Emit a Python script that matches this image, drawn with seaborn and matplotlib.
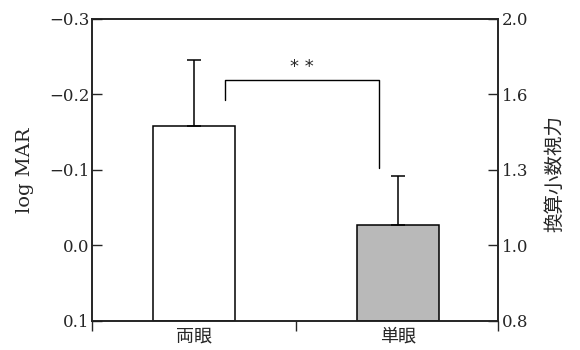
import matplotlib
matplotlib.use("Agg")
import matplotlib.pyplot as plt
import seaborn as sns

# Mean logMAR visual acuity, binocular vs monocular, with upper error bars
categories = ["両眼", "単眼"]
logmar = [-0.158, -0.027]
err = [0.088, 0.065]
bar_colors = ["#ffffff", "#b9b9b9"]

left_ticks = [-0.3, -0.2, -0.1, 0.0, 0.1]
left_labels = ["\u22120.3", "\u22120.2", "\u22120.1", "0.0", "0.1"]
right_labels = ["2.0", "1.6", "1.3", "1.0", "0.8"]
baseline = 0.1

sns.set_style("ticks")
plt.rcParams["font.family"] = ["DejaVu Serif", "Noto Sans CJK JP"]
plt.rcParams["axes.linewidth"] = 1.1

fig = plt.figure(figsize=(5.8, 3.5), dpi=100)
ax = fig.add_axes([0.1586, 0.0829, 0.700, 0.8629])

sns.barplot(x=categories, y=logmar, hue=categories, palette=bar_colors,
            legend=False, width=0.4, edgecolor="black", linewidth=1.1,
            errorbar=None, ax=ax)

# bars rise from the bottom of the inverted logMAR scale
for patch, v in zip(ax.patches, logmar):
    patch.set_y(baseline)
    patch.set_height(v - baseline)

ax.errorbar([0, 1], logmar, yerr=[err, [0, 0]], fmt="none", ecolor="black",
            elinewidth=1.1, capsize=5, capthick=1.1, zorder=3)

# significance bracket
bx = [0.152, 0.152, 0.905, 0.905]
by = [-0.193, -0.219, -0.219, -0.103]
ax.plot(bx, by, color="black", lw=1.0)
ax.text(0.528, -0.237, "* *", ha="center", va="center", fontsize=13,
        family="DejaVu Sans")

ax.set_xlim(-0.5, 1.49)
ax.set_ylim(0.1, -0.3)
ax.set_yticks(left_ticks)
ax.set_yticklabels(left_labels, fontsize=12)
ax.tick_params(axis="y", direction="in", length=7, width=1.0, pad=2)

ax.set_xticks([0, 1])
ax.set_xticklabels(categories, fontsize=13, family="Noto Sans CJK JP")
ax.tick_params(axis="x", which="major", length=0, pad=5)
ax.set_xticks([-0.5, 0.5, 1.49], minor=True)
ax.tick_params(axis="x", which="minor", direction="out", length=7.5, width=1.0)
ax.set_xlabel("")
ax.set_ylabel("log MAR", fontsize=14, labelpad=11)

for side in ["top", "right", "left", "bottom"]:
    ax.spines[side].set_visible(True)
    ax.spines[side].set_color("black")

ax2 = ax.twinx()
ax2.set_ylim(ax.get_ylim())
ax2.set_yticks(left_ticks)
ax2.set_yticklabels(right_labels, fontsize=12)
ax2.tick_params(axis="y", direction="in", length=7, width=1.0, pad=3)
ax2.set_ylabel("換算小数視力", fontsize=14, family="Noto Sans CJK JP")
ax2.yaxis.set_label_coords(1.115, 0.487)

fig.savefig("out.png", dpi=100)
